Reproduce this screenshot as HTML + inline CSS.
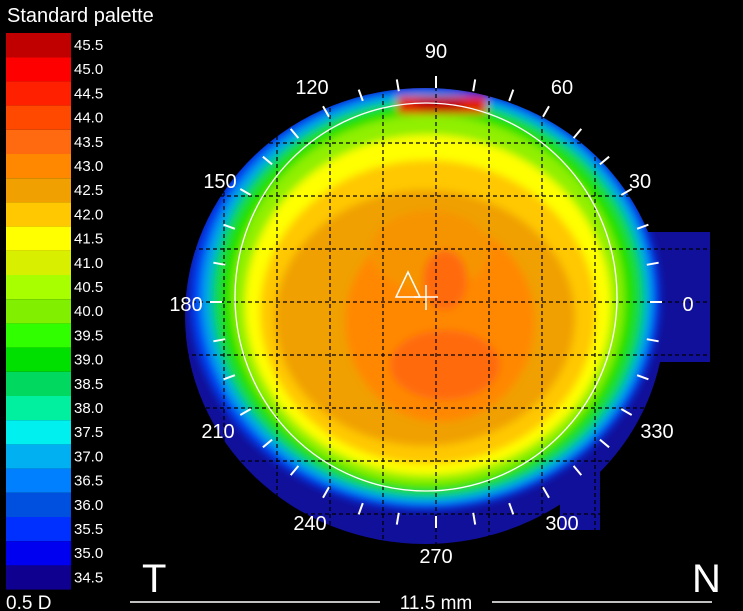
<!DOCTYPE html>
<html><head><meta charset="utf-8"><style>
html,body{margin:0;padding:0;background:#000;width:743px;height:611px;overflow:hidden}
svg{display:block}
text{font-family:"Liberation Sans",Arial,sans-serif;fill:#fff}
</style></head><body>
<svg width="743" height="611" viewBox="0 0 743 611" xmlns="http://www.w3.org/2000/svg">
<defs>
<filter id="b" x="-10%" y="-10%" width="120%" height="120%"><feGaussianBlur stdDeviation="4"/></filter>
<clipPath id="cp">
<ellipse cx="425" cy="316" rx="240" ry="228"/>
<rect x="640" y="232" width="70" height="130"/>
<rect x="560" y="470" width="40" height="60"/>
</clipPath>
</defs>
<text x="7" y="22" font-size="20">Standard palette</text>
<g font-size="15">
<rect x="6" y="33" width="65" height="24.2" fill="#c00000"/><text x="74" y="50">45.5</text>
<rect x="6" y="57.2" width="65" height="24.2" fill="#ff0000"/><text x="74" y="74.2">45.0</text>
<rect x="6" y="81.4" width="65" height="24.2" fill="#ff2000"/><text x="74" y="98.4">44.5</text>
<rect x="6" y="105.6" width="65" height="24.2" fill="#ff4800"/><text x="74" y="122.6">44.0</text>
<rect x="6" y="129.8" width="65" height="24.2" fill="#ff6a10"/><text x="74" y="146.8">43.5</text>
<rect x="6" y="154" width="65" height="24.2" fill="#ff8800"/><text x="74" y="171">43.0</text>
<rect x="6" y="178.2" width="65" height="24.2" fill="#f0a000"/><text x="74" y="195.2">42.5</text>
<rect x="6" y="202.4" width="65" height="24.2" fill="#ffc800"/><text x="74" y="219.4">42.0</text>
<rect x="6" y="226.6" width="65" height="24.2" fill="#ffff00"/><text x="74" y="243.6">41.5</text>
<rect x="6" y="250.8" width="65" height="24.2" fill="#d8f000"/><text x="74" y="267.8">41.0</text>
<rect x="6" y="275" width="65" height="24.2" fill="#a8ff00"/><text x="74" y="292">40.5</text>
<rect x="6" y="299.2" width="65" height="24.2" fill="#80f000"/><text x="74" y="316.2">40.0</text>
<rect x="6" y="323.4" width="65" height="24.2" fill="#30ff00"/><text x="74" y="340.4">39.5</text>
<rect x="6" y="347.6" width="65" height="24.2" fill="#00e000"/><text x="74" y="364.6">39.0</text>
<rect x="6" y="371.8" width="65" height="24.2" fill="#00d860"/><text x="74" y="388.8">38.5</text>
<rect x="6" y="396" width="65" height="24.2" fill="#00f0a0"/><text x="74" y="413">38.0</text>
<rect x="6" y="420.2" width="65" height="24.2" fill="#00f0f0"/><text x="74" y="437.2">37.5</text>
<rect x="6" y="444.4" width="65" height="24.2" fill="#00b0f0"/><text x="74" y="461.4">37.0</text>
<rect x="6" y="468.6" width="65" height="24.2" fill="#0080ff"/><text x="74" y="485.6">36.5</text>
<rect x="6" y="492.8" width="65" height="24.2" fill="#0050e0"/><text x="74" y="509.8">36.0</text>
<rect x="6" y="517" width="65" height="24.2" fill="#0030ff"/><text x="74" y="534">35.5</text>
<rect x="6" y="541.2" width="65" height="24.2" fill="#0000f0"/><text x="74" y="558.2">35.0</text>
<rect x="6" y="565.4" width="65" height="24.2" fill="#100090"/><text x="74" y="582.4">34.5</text>
</g>
<g clip-path="url(#cp)">
<rect x="150" y="60" width="580" height="520" fill="#10109a"/>
<g filter="url(#b)">
<ellipse cx="425" cy="298" rx="235" ry="212" fill="#0040f0"/>
<ellipse cx="427" cy="298" rx="226" ry="206" fill="#00a0f0"/>
<ellipse cx="428" cy="298" rx="218" ry="200" fill="#00d070"/>
<ellipse cx="428" cy="298" rx="210" ry="195" fill="#20e000"/>
<ellipse cx="428" cy="300" rx="196" ry="185" fill="#90f000"/>
<ellipse cx="428" cy="305" rx="183" ry="170" fill="#ffff00"/>
<ellipse cx="428" cy="312" rx="168" ry="152" fill="#ffc800"/>
<ellipse cx="425" cy="318" rx="150" ry="128" fill="#f0a000"/>
<ellipse cx="440" cy="322" rx="95" ry="100" fill="#ff8800"/>
<ellipse cx="430" cy="250" rx="60" ry="40" fill="#f69400"/>
<ellipse cx="445" cy="365" rx="55" ry="35" fill="#ff6a10"/>
<ellipse cx="445" cy="280" rx="22" ry="30" fill="#ff6a10"/>
<rect x="398" y="96" width="88" height="18" fill="#e02000"/>
<ellipse cx="440" cy="104" rx="25" ry="8" fill="#c00000"/>
</g>
</g>
<g stroke="#000" stroke-width="1.2" stroke-dasharray="4,3" fill="none">
<line x1="224" y1="80" x2="224" y2="550"/><line x1="277" y1="80" x2="277" y2="550"/>
<line x1="330" y1="80" x2="330" y2="550"/><line x1="383" y1="80" x2="383" y2="550"/>
<line x1="436" y1="80" x2="436" y2="550"/><line x1="489" y1="80" x2="489" y2="550"/>
<line x1="542" y1="80" x2="542" y2="550"/><line x1="595" y1="80" x2="595" y2="550"/>
<line x1="185" y1="143" x2="710" y2="143"/><line x1="185" y1="196" x2="710" y2="196"/>
<line x1="185" y1="249" x2="710" y2="249"/><line x1="185" y1="302" x2="710" y2="302"/>
<line x1="185" y1="355" x2="710" y2="355"/><line x1="185" y1="408" x2="710" y2="408"/>
<line x1="185" y1="461" x2="710" y2="461"/><line x1="185" y1="514" x2="710" y2="514"/>
</g>
<ellipse cx="426" cy="297" rx="191" ry="194" fill="none" stroke="#fff" stroke-width="1.3"/>
<path stroke="#fff" stroke-width="2" fill="none" d="
M650 302L662 302M646.8 264.8L658.6 262.7M637.1 228.8L648.4 224.7M621.3 195L631.7 189M599.9 164.4L609.1 156.7M573.6 138.1L581.3 128.9
M543 116.7L549 106.3M509.2 100.9L513.3 89.6M473.2 91.2L475.2 79.4M436 88L436 76M398.8 91.2L396.8 79.4M362.8 100.9L358.7 89.6
M329 116.7L323 106.3M298.4 138.1L290.7 128.9M272.1 164.4L262.9 156.7M250.7 195L240.3 189M234.9 228.8L223.6 224.7M225.2 264.8L213.4 262.7
M222 302L210 302M225.2 339.2L213.4 341.3M234.9 375.2L223.6 379.3M250.7 409L240.3 415M272.1 439.6L262.9 447.3M298.4 465.9L290.7 475.1
M329 487.3L323 497.7M362.8 503.1L358.7 514.4M398.8 512.8L396.8 524.6M436 516L436 528M473.2 512.8L475.2 524.6M509.2 503.1L513.3 514.4
M543 487.3L549 497.7M573.6 465.9L581.3 475.1M599.9 439.6L609.1 447.3M621.3 409L631.7 415M637.1 375.2L648.4 379.3M646.8 339.2L658.6 341.3"/>
<path d="M408 272 L396 297 L420 297 Z" fill="none" stroke="#fff" stroke-width="1.5"/>
<path d="M414 297 H438 M426 285 V310" stroke="#fff" stroke-width="1.5"/>
<g font-size="20" text-anchor="middle">
<text x="436" y="58">90</text><text x="562" y="94">60</text><text x="640" y="188">30</text>
<text x="688" y="311">0</text><text x="657" y="438">330</text><text x="562" y="530">300</text>
<text x="436" y="563">270</text><text x="310" y="530">240</text><text x="218" y="438">210</text>
<text x="186" y="311">180</text><text x="220" y="188">150</text><text x="312" y="94">120</text>
</g>
<text x="142" y="592" font-size="40">T</text>
<text x="692" y="592" font-size="40">N</text>
<text x="6" y="609" font-size="19">0.5 D</text>
<line x1="130" y1="602" x2="380" y2="602" stroke="#fff" stroke-width="1.5"/>
<line x1="492" y1="602" x2="712" y2="602" stroke="#fff" stroke-width="1.5"/>
<text x="436" y="609" font-size="19" text-anchor="middle">11.5 mm</text>
</svg>
</body></html>
